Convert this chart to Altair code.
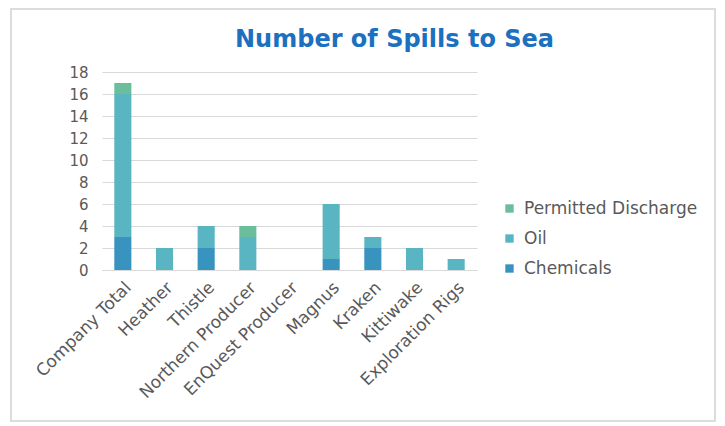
import altair as alt
import pandas as pd

sites = ["Company Total", "Heather", "Thistle", "Northern Producer", "EnQuest Producer",
         "Magnus", "Kraken", "Kittiwake", "Exploration Rigs"]
chemicals = [3, 0, 2, 0, 0, 1, 2, 0, 0]
oil = [13, 2, 2, 3, 0, 5, 1, 2, 1]
permitted = [1, 0, 0, 1, 0, 0, 0, 0, 0]
series = ["Chemicals", "Oil", "Permitted Discharge"]
legend_order = ["Permitted Discharge", "Oil", "Chemicals"]
colors = ["#6BBE9C", "#5AB5C3", "#3893BF"]
y_ticks = [0, 2, 4, 6, 8, 10, 12, 14, 16, 18]

rows = []
for i, s in enumerate(sites):
    for k, (name, vals) in enumerate(zip(series, [chemicals, oil, permitted])):
        rows.append({"site": s, "type": name, "value": vals[i], "ord": k})
df = pd.DataFrame(rows)

FONT = "DejaVu Sans"
GRAY = "#595959"

bars = alt.Chart(df).mark_bar().encode(
    x=alt.X("site:N", sort=sites, title=None,
            scale=alt.Scale(paddingInner=0.59, paddingOuter=0.295),
            axis=alt.Axis(labelAngle=-45, labelFontSize=17, labelColor=GRAY, labelFont=FONT,
                          ticks=False, domain=True, domainColor="#d9d9d9", labelPadding=9,
                          labelLimit=300)),
    y=alt.Y("value:Q", stack="zero", title=None,
            scale=alt.Scale(domain=[0, 18], nice=False),
            axis=alt.Axis(values=y_ticks, labelFontSize=15, labelColor=GRAY, labelFont=FONT,
                          ticks=False, domain=False, gridColor="#d9d9d9", labelPadding=14)),
    color=alt.Color("type:N", scale=alt.Scale(domain=legend_order, range=colors),
                    legend=alt.Legend(title=None, orient="none", legendX=399, legendY=128,
                                      symbolType="square", symbolSize=70, labelFontSize=17,
                                      labelColor=GRAY, labelFont=FONT, rowPadding=12,
                                      labelOffset=6, symbolStrokeWidth=0, labelLimit=300)),
    order=alt.Order("ord:Q", sort="ascending"),
)

frame_df = pd.DataFrame({"a": [0]})
frame = alt.Chart(frame_df).mark_rect(fill=None, stroke="#dcdcdc", strokeWidth=2, clip=False).encode(
    x=alt.value(-91), x2=alt.value(613), y=alt.value(-63), y2=alt.value(349)
)

chart = alt.layer(frame, bars).properties(
    width=375, height=198,
    title=alt.TitleParams("Number of Spills to Sea", fontSize=24, font=FONT, fontWeight="bold",
                          color="#1B70C0", anchor="middle", dx=105, offset=0, dy=44),
    autosize=alt.AutoSizeParams(type="none"),
    padding={"left": 94, "top": 64, "right": 240, "bottom": 152},
).configure_view(stroke=None)

chart.save("out.html", embed_options={"renderer": "svg", "actions": False})
